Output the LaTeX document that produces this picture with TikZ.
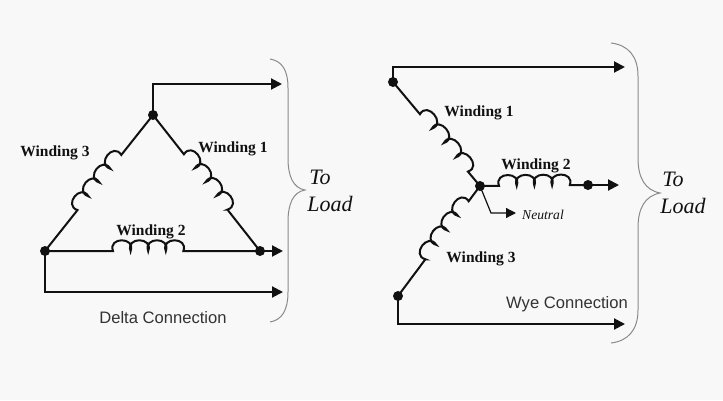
\documentclass[tikz,border=0pt]{standalone}
\usepackage{fontspec}
\setmainfont{Liberation Serif}
\setsansfont{Liberation Sans}
\usetikzlibrary{arrows.meta,decorations}
\pgfdeclaredecoration{humps}{hump}{
  \state{hump}[width=\pgfdecorationsegmentlength]{
    \pgfpathcurveto
      {\pgfpoint{-0.3\pgfdecorationsegmentlength}{1.3\pgfdecorationsegmentamplitude}}
      {\pgfpoint{1.3\pgfdecorationsegmentlength}{1.3\pgfdecorationsegmentamplitude}}
      {\pgfpoint{\pgfdecorationsegmentlength}{0pt}}
  }
  \state{final}{\pgfpathlineto{\pgfpointdecoratedpathlast}}
}
\definecolor{bgc}{HTML}{F8F8F8}
\definecolor{ink}{HTML}{111111}
\definecolor{bracec}{HTML}{8A8A8A}
\definecolor{sanstext}{HTML}{333333}
\tikzset{
  wire/.style={draw=ink,line width=2pt,line join=miter},
  feed/.style={wire,-{Triangle[length=11pt,width=11pt]}},
  junction/.style={circle,fill=ink,inner sep=0pt,minimum size=10pt},
  brace/.style={draw=bracec,line width=1pt},
  windinglabel/.style={font=\rmfamily\bfseries\fontsize{15.5}{17}\selectfont,text=ink,inner sep=0pt},
  caption/.style={font=\sffamily\fontsize{16.6}{18}\selectfont,text=sanstext,inner sep=0pt},
  loadlabel/.style={font=\rmfamily\itshape\fontsize{22}{24}\selectfont,text=ink,inner sep=0pt},
  neutrallabel/.style={font=\rmfamily\itshape\fontsize{13.6}{15}\selectfont,text=ink,inner sep=0pt},
}
\begin{document}
\begin{tikzpicture}[x=1pt,y=-1pt]
\useasboundingbox (0,0) rectangle (723,400);
\fill[bgc] (0,0) rectangle (723,400);

% ---- Delta ----
\node[junction] (dT) at (153,115) {};
\node[junction] (dL) at (45,251) {};
\node[junction] (dR) at (260,251) {};
\coordinate (dTa) at (282,84);
\coordinate (dTc) at (153,84);
\coordinate (dRa) at (283,251);
\coordinate (dBc) at (45,292);
\coordinate (dBa) at (283,292);

\draw[wire,decorate,decoration={humps,amplitude=11pt,segment length=17.6pt,pre length=50pt,post length=50pt}] (dT.center) -- (dR.center);
\draw[wire,decorate,decoration={humps,amplitude=-11pt,segment length=17.6pt,pre length=51pt,post length=51pt}] (dT.center) -- (dL.center);
\draw[wire,decorate,decoration={humps,amplitude=11pt,segment length=17.6pt,pre length=68pt,post length=76pt}] (dL.center) -- (dR.center);
\draw[feed] (dT.center) -- (dTc) -- (dTa);
\draw[feed] (dR.center) -- (dRa);
\draw[feed] (dL.center) -- (dBc) -- (dBa);

\node[windinglabel] (dW3) at (55,153) {Winding 3};
\node[windinglabel] (dW1) at (233,149) {Winding 1};
\node[windinglabel] (dW2) at (151,232) {Winding 2};
\node[caption] (dCap) at (163,318) {Delta Connection};
\node[loadlabel] (dTo) at (320,177) {To};
\node[loadlabel] (dLoad) at (330,204) {Load};
\draw[brace] (270,59) .. controls (282,61) and (288,70) .. (288,88)
  -- (288,158) .. controls (288,176) and (293,188) .. (305,190)
  .. controls (293,192) and (288,204) .. (288,222)
  -- (288,292) .. controls (288,310) and (282,320) .. (270,322);

% ---- Wye ----
\node[junction] (yA) at (393,82) {};
\node[junction] (yC) at (480,186) {};
\node[junction] (yB) at (588,185) {};
\node[junction] (yD) at (398,296) {};
\coordinate (yAc) at (393,67);
\coordinate (yAa) at (625,67);
\coordinate (yBa) at (619,185);
\coordinate (yDc) at (398,324);
\coordinate (yDa) at (625,324);
\coordinate (yNc) at (491,213);
\coordinate (yNa) at (516,213);

\draw[wire,decorate,decoration={humps,amplitude=11pt,segment length=18.7pt,pre length=42pt,post length=18pt}] (yA.center) -- (yC.center);
\draw[wire,decorate,decoration={humps,amplitude=11pt,segment length=17.7pt,pre length=19pt,post length=17pt}] (yC.center) -- (yB.center);
\draw[wire,decorate,decoration={humps,amplitude=-11pt,segment length=18.1pt,pre length=19pt,post length=45pt}] (yC.center) -- (yD.center);
\draw[feed] (yA.center) -- (yAc) -- (yAa);
\draw[feed] (yB.center) -- (yBa);
\draw[feed] (yD.center) -- (yDc) -- (yDa);
\draw[feed,line width=1.2pt,-{Triangle[length=10pt,width=10pt]}] (yC.center) -- (yNc) -- (yNa);

\node[windinglabel] (yW1) at (479,113) {Winding 1};
\node[windinglabel] (yW2) at (536,166) {Winding 2};
\node[windinglabel] (yW3) at (481,259) {Winding 3};
\node[neutrallabel] (yN) at (543,215) {Neutral};
\node[caption] (yCap) at (567,304) {Wye Connection};
\node[loadlabel] (yTo) at (673,179) {To};
\node[loadlabel] (yLoad) at (683,206) {Load};
\draw[brace] (611,43) .. controls (628,45) and (638,56) .. (638,76)
  -- (638,158) .. controls (638,178) and (645,190) .. (660,193)
  .. controls (645,196) and (638,208) .. (638,228)
  -- (638,310) .. controls (638,330) and (628,341) .. (611,343);
\end{tikzpicture}
\end{document}
